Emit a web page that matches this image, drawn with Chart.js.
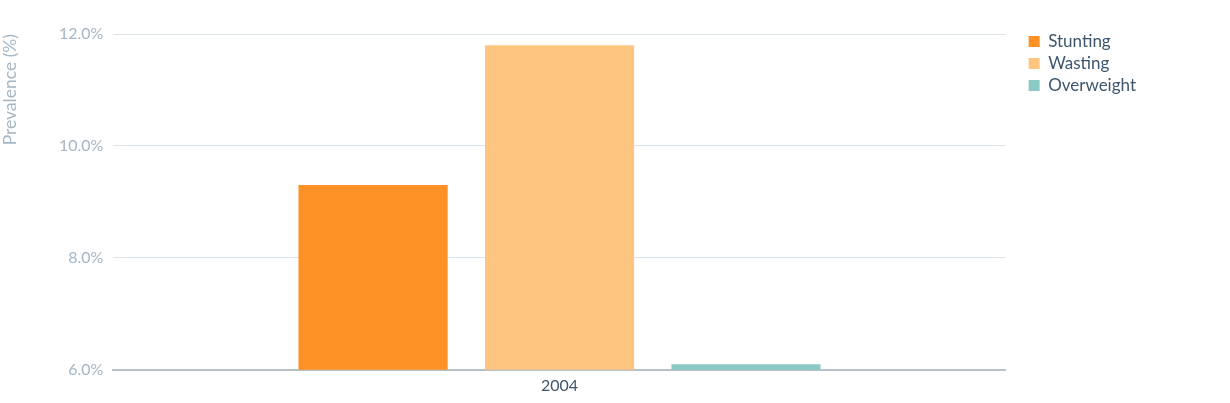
<!DOCTYPE html>
<html>
<head>
<meta charset="utf-8">
<script src="https://cdn.jsdelivr.net/npm/chart.js@4"></script>
<style>
    html, body { margin: 0; padding: 0; background: #fff; }
    #wrap { width: 1230px; height: 403px; position: relative; }
</style>
</head>
<body>
<div id="wrap"><canvas id="chart"></canvas></div>
<script>
const years = ['2004'];
const stunting = [9.3];
const wasting = [11.8];
const overweight = [6.1];
const yTicks = [6, 8, 10, 12];

const axisFont = "'Lato', 'Open Sans', sans-serif";

// nudge the legend: a bit further from the plot and a bit higher
const legendNudge = {
    id: 'legendNudge',
    afterLayout(chart) {
        const legend = chart.legend;
        if (!legend) {
            return;
        }
        legend.left += 18;
        legend.right += 18;
        legend.top -= 6;
        legend.bottom -= 6;
    },
};

function drawChart() {
    const ctx = document.getElementById('chart').getContext('2d');

    new Chart(ctx, {
        type: 'bar',
        data: {
            labels: years,
            datasets: [
                { label: 'Stunting', data: stunting, backgroundColor: '#fd9126' },
                { label: 'Wasting', data: wasting, backgroundColor: '#fec580' },
                { label: 'Overweight', data: overweight, backgroundColor: '#8bc9c5' },
            ],
        },
        options: {
            responsive: true,
            maintainAspectRatio: false,
            animation: false,
            datasets: {
                bar: {
                    categoryPercentage: 0.627,
                    barPercentage: 0.8,
                },
            },
            layout: {
                padding: { top: 34, right: 102, bottom: 2, left: 0 },
            },
            scales: {
                x: {
                    grid: { display: false, drawTicks: false },
                    border: { color: '#b5c2cb', width: 2 },
                    ticks: {
                        color: '#3d566e',
                        font: { family: axisFont, size: 16 },
                        padding: 6,
                    },
                },
                y: {
                    min: yTicks[0],
                    max: yTicks[yTicks.length - 1],
                    afterBuildTicks: (axis) => {
                        axis.ticks = yTicks.map((v) => ({ value: v }));
                    },
                    grid: { color: '#dbe3ea', lineWidth: 1, drawTicks: false },
                    border: { display: false },
                    ticks: {
                        color: '#a5b6c6',
                        font: { family: axisFont, size: 16 },
                        padding: 10,
                        callback: (v) => `${Number(v).toFixed(1)}%`,
                    },
                    title: {
                        display: true,
                        text: 'Prevalence (%)',
                        align: 'end',
                        color: '#a5b6c6',
                        font: { family: axisFont, size: 17.5 },
                        padding: { top: 0, bottom: 28 },
                    },
                },
            },
            plugins: {
                legend: {
                    position: 'right',
                    align: 'start',
                    labels: {
                        boxWidth: 11,
                        boxHeight: 11,
                        padding: 5,
                        color: '#3d566e',
                        font: { family: axisFont, size: 17 },
                    },
                },
                tooltip: { enabled: false },
            },
        },
        plugins: [legendNudge],
    });
}

document.addEventListener('DOMContentLoaded', drawChart);
</script>
</body>
</html>
